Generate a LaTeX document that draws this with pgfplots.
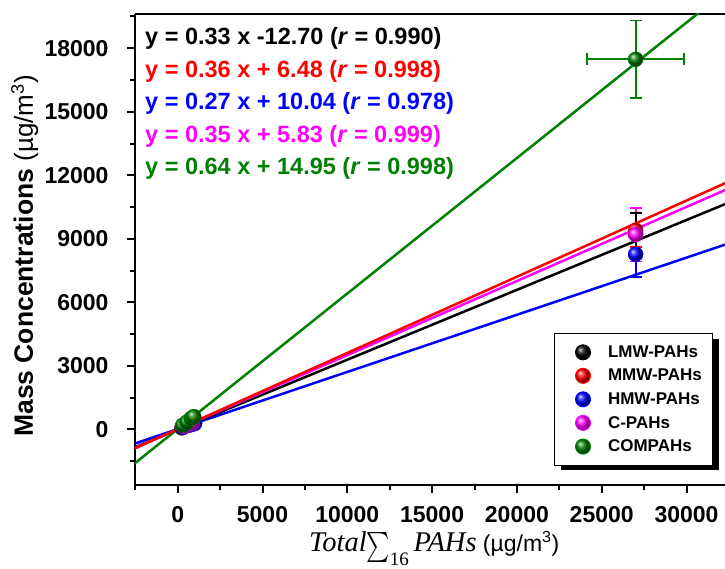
\documentclass[border=0pt]{standalone}
\usepackage{graphicx}
\usepackage{fontspec}
\setmainfont{Liberation Sans}
\newfontfamily\timesf{Liberation Serif}
\usepackage{pgfplots}
\pgfplotsset{compat=1.18}
\usetikzlibrary{shadows}

\definecolor{cgreen}{RGB}{0,128,0}
\definecolor{cmag}{RGB}{255,0,255}

\pgfplotsset{
  pt/.style={only marks, mark=ball, ball color=#1, color=#1, mark size=7.5pt},
  yerr/.style={#1, line width=1.8pt, mark=-, mark size=6pt, mark options={solid, line width=1.8pt}, forget plot},
  xerr/.style={#1, line width=1.8pt, mark=|, mark size=6pt, mark options={solid, line width=1.8pt}, forget plot},
}

\begin{document}
\begin{tikzpicture}
\useasboundingbox (-135pt,-84pt) rectangle (590pt,485pt);
\begin{axis}[
  width=590pt, height=471pt, scale only axis,
  xmin=-2518, xmax=32270, ymin=-2630, ymax=19618,
  axis x line*=box, axis y line*=left,
  xtick={0,5000,...,30000}, ytick={0,3000,...,18000},
  minor xtick={-2500,2500,...,32500}, minor ytick={-1500,1500,...,19500},
  xtick pos=left, ytick pos=left,
  tick align=outside, major tick length=8pt, minor tick length=5pt,
  every tick/.style={black, line width=2pt},
  axis line style={line width=2.5pt},
  scaled ticks=false,
  /pgf/number format/assume math mode=true,
  /pgf/number format/1000 sep={},
  tick label style={font=\fontsize{23}{23}\selectfont\bfseries},
  yticklabel shift=15pt,
  xticklabel shift=10pt,
  legend style={at={(0.7102,0.3222)}, anchor=north west, draw=black, line width=1pt,
    fill=white, font=\fontsize{17}{17}\selectfont\bfseries,
    inner xsep=9pt, inner ysep=10pt, row sep=6.3pt,
    /tikz/column 1/.style={column sep=15pt},
    drop shadow={shadow xshift=6pt, shadow yshift=-5pt, fill=black, opacity=1}},
  legend cell align=left,
  legend image code/.code={\path (-19pt,0pt) (0pt,0pt);
    \draw[mark repeat=1,#1] plot coordinates {(0pt,0pt)};},
]
% points near the origin
\addplot[pt=black, forget plot] coordinates {(250,70)(600,190)(900,290)};
\addplot[pt=red, forget plot] coordinates {(300,110)(700,250)(950,340)};
\addplot[pt=blue, forget plot] coordinates {(350,100)(800,220)(1000,280)};
\addplot[pt=cmag, forget plot] coordinates {(400,140)(850,300)};
\addplot[pt=cgreen, forget plot] coordinates {(300,200)(550,350)(800,520)(950,600)};

% error bars of the points at 27000
\addplot[yerr=blue] coordinates {(27000,7196) (27000,9336)};
\addplot[yerr=cmag] coordinates {(27000,7930) (27000,10470)};
\addplot[yerr=red] coordinates {(27000,8600) (27000,10200)};
\addplot[yerr=black] coordinates {(27000,8280) (27000,10220)};
\addplot[yerr=cgreen] coordinates {(27000,15643) (27000,19313)};
\addplot[xerr=cgreen] coordinates {(24150,17478) (29850,17478)};

% points at 27000
\addplot[pt=black] coordinates {(27000,9250)};
\addlegendentry{LMW-PAHs}
\addplot[pt=red] coordinates {(27000,9400)};
\addlegendentry{MMW-PAHs}
\addplot[pt=blue] coordinates {(27000,8266)};
\addlegendentry{HMW-PAHs}
\addplot[pt=cmag] coordinates {(27000,9200)};
\addlegendentry{C-PAHs}
\addplot[pt=cgreen] coordinates {(27000,17478)};
\addlegendentry{COMPAHs}

% fitted lines
\addplot[cgreen, line width=2.5pt, forget plot] coordinates {(-2600,-1649) (32400,20751)};
\addplot[blue, line width=2.5pt, forget plot] coordinates {(-2600,-692) (32400,8758)};
\addplot[black, line width=2.5pt, forget plot] coordinates {(-2600,-870.7) (32400,10679.3)};
\addplot[cmag, line width=2.5pt, forget plot] coordinates {(-2600,-904) (32400,11345.8)};
\addplot[red, line width=2.5pt, forget plot] coordinates {(-2600,-929.5) (32400,11670.5)};

% equations
\begin{scope}[every node/.style={anchor=base west, inner sep=0pt, font=\fontsize{23.5}{23.5}\selectfont\bfseries}]
\node[black]  at ([xshift=10pt,yshift=-31pt]rel axis cs:0,1) {y = 0.33 x -12.70 (\textit{r} = 0.990)};
\node[red]    at ([xshift=10pt,yshift=-63.5pt]rel axis cs:0,1) {y = 0.36 x + 6.48 (\textit{r} = 0.998)};
\node[blue]   at ([xshift=10pt,yshift=-96pt]rel axis cs:0,1) {y = 0.27 x + 10.04 (\textit{r} = 0.978)};
\node[cmag]   at ([xshift=10pt,yshift=-128.5pt]rel axis cs:0,1) {y = 0.35 x + 5.83 (\textit{r} = 0.999)};
\node[cgreen] at ([xshift=10pt,yshift=-161pt]rel axis cs:0,1) {y = 0.64 x + 14.95 (\textit{r} = 0.998)};
\end{scope}
\end{axis}

% axis titles
\node[anchor=base west, inner sep=0pt, rotate=90] at (-102pt,48pt)
  {\fontsize{26.5}{26.5}\selectfont\bfseries Mass Concentrations \fontsize{26}{26}\selectfont\mdseries(µg/m\textsuperscript{3})};
\node[anchor=base west, inner sep=0pt] at (174pt,-67pt)
  {\fontsize{28.5}{30}\selectfont\timesf\itshape Total\raisebox{-14pt}{\scalebox{2.2}[3.0]{$\sum$}}\raisebox{-14pt}{\fontsize{19}{19}\selectfont\upshape 16}\,PAHs\fontsize{23}{23}\selectfont\normalfont\upshape\ (µg/m\textsuperscript{3})};
\end{tikzpicture}
\end{document}
